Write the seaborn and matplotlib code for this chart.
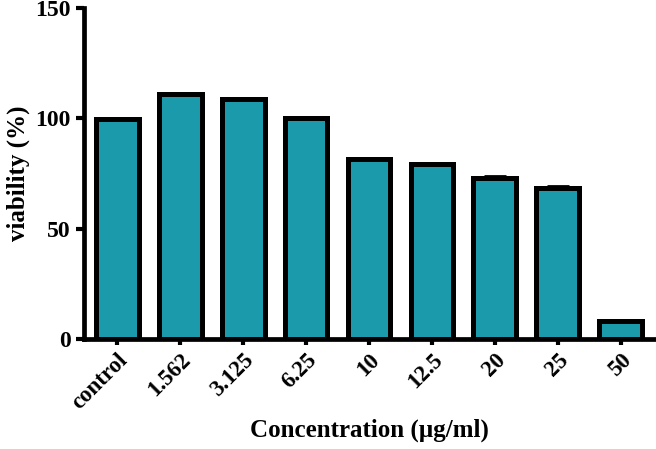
import seaborn as sns
import matplotlib.pyplot as plt
import pandas as pd

concentracoes = ['control', '1.562', '3.125', '6.25', '10', '12.5', '20', '25', '50']
viabilidade = [99.5, 111.0, 108.8, 100.0, 81.5, 79.5, 73.0, 68.5, 8.0]
desvio = [0.3, 0.6, 0.6, 0.4, 0.7, 0.5, 0.8, 0.8, 0.4]

df = pd.DataFrame({'Concentração': concentracoes, 'Viabilidade': viabilidade})

sns.set_style('ticks', {'axes.edgecolor': 'black', 'text.color': 'black',
                        'xtick.color': 'black', 'ytick.color': 'black',
                        'axes.labelcolor': 'black'})
plt.rcParams['font.family'] = ['Liberation Serif', 'DejaVu Serif']
plt.rcParams['font.weight'] = 'bold'

fig = plt.figure(figsize=(6.56, 4.49), dpi=100)
ax = fig.add_axes([0.128, 0.245, 0.870, 0.737])

sns.barplot(x='Concentração', y='Viabilidade', data=df, color='#1a9aab',
            width=0.68, edgecolor='black', linewidth=3.6, errorbar=None,
            saturation=1, ax=ax, zorder=2)
ax.errorbar(range(len(concentracoes)), viabilidade,
            yerr=[[0] * len(desvio), desvio], fmt='none', ecolor='black',
            elinewidth=2, capsize=8, capthick=2, zorder=3)

ax.set_ylim(0, 150)
ax.set_xlim(-0.53, 8.54)
ax.set_yticks([0, 50, 100, 150])
sns.despine(ax=ax)
for lado in ['left', 'bottom']:
    ax.spines[lado].set_linewidth(3.4)
ax.tick_params(axis='y', width=3, length=6, labelsize=17)
ax.tick_params(axis='x', width=3, length=4, labelsize=16.5)
plt.setp(ax.get_xticklabels(), rotation=45, ha='right', rotation_mode='anchor',
         fontweight='bold')
plt.setp(ax.get_yticklabels(), fontweight='bold')
ax.set_xlabel('Concentration (µg/ml)', fontsize=18, fontweight='bold', labelpad=4)
ax.set_ylabel('viability (%)', fontsize=18, fontweight='bold', labelpad=4)

fig.savefig('out.png', dpi=100)
